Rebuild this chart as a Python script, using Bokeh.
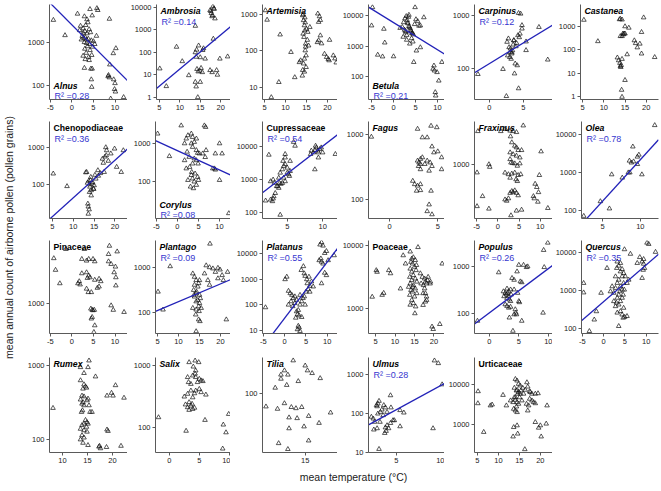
import math
from bokeh.plotting import figure
from bokeh.layouts import row, column
from bokeh.models import Label, FixedTicker, NumeralTickFormatter, Range1d
from bokeh.embed import file_html
from bokeh.resources import INLINE

# ---------------- data (temperature degC, annual pollen count) ----------------
ALNUS = [(-4.3,3300),(-1.6,1450),(1.3,4600),(2.9,4000),(4.2,5900),(4.7,4200),(3.5,3400),(5.8,6200),(6.0,5600),(8.7,3500),(2.0,2400),(1.8,1900),(2.6,2100),(3.2,2500),(3.0,1800),(3.5,1600),(4.0,2000),(4.3,1700),(2.4,1400),(3.1,1300),(3.8,1200),(4.5,1100),(2.9,1000),(3.4,950),(4.1,900),(5.0,1050),(2.2,1150),(3.6,800),(4.8,780),(3.0,700),(4.2,650),(5.3,900),(3.3,560),(2.6,480),(3.9,450),(4.6,500),(3.1,400),(4.0,380),(4.4,240),(4.7,240),(2.9,250),(10.2,720),(9.6,550),(8.8,300),(8.5,170),(8.4,160),(8.7,150),(9.7,135),(10.0,110),(9.9,80),(10.1,70),(9.0,48),(12.0,52),(4.5,135),(4.6,90),(2.6,1650),(5.7,1400),(3.7,2900),(2.7,1250),(3.4,1150)]
AMBROSIA = [(5.1,19),(6.7,3.1),(9.2,175),(10.6,40),(12.2,9.5),(13.8,100),(14.0,63),(14.6,200),(15.0,60),(15.6,125),(13.8,4.8),(14.0,3),(15.0,4.8),(14.4,1),(14.9,15),(15.2,20),(15.5,13),(14.2,18),(16.2,52),(15.8,150),(18.2,400),(17.4,7400),(18.1,11000),(18.6,3200),(17.7,5500),(18.0,4500),(17.6,6800),(18.4,8500),(13.8,1500),(17.4,16),(17.9,13),(19.0,16),(19.2,10),(19.8,52),(21.7,65),(14.5,14),(14.1,130),(17.9,4000),(18.3,9000)]
ARTEMISIA = [(5.2,1290),(5.6,710),(8.7,280),(8.4,14),(6.6,5.4),(11.3,93),(12.2,19),(13.3,49),(13.6,55),(14.1,940),(14.3,690),(14.5,500),(14.6,365),(14.2,295),(14.4,240),(14.8,157),(14.7,103),(14.9,75),(14.5,61),(14.3,45),(14.9,36),(14.1,30),(14.5,27),(14.0,21),(14.8,130),(15.2,200),(15.5,140),(15.0,400),(14.6,820),(17.7,1050),(18.1,880),(17.9,620),(18.3,700),(17.6,173),(17.9,195),(18.3,265),(18.6,160),(20.5,200),(19.3,83),(19.8,68),(20.2,60),(20.4,55),(21.4,75),(22.1,48),(21.8,62),(14.2,1000),(14.7,600),(15.8,450),(15.3,330)]
BETULA = [(-4.8,18600),(-5.0,4700),(-2.2,3650),(-2.0,1300),(-3.6,520),(-2.5,455),(0.0,460),(2.0,4200),(2.3,6000),(2.6,8000),(2.9,9500),(3.1,7000),(3.3,5500),(3.5,4500),(3.8,3800),(4.0,3000),(4.2,2600),(4.5,2400),(4.8,5200),(5.1,7500),(5.5,6500),(2.5,3400),(2.8,2800),(3.0,2300),(3.2,5800),(3.4,9000),(3.6,4200),(3.9,3300),(4.1,1800),(4.4,1400),(2.2,2000),(3.0,1600),(3.7,1200),(4.3,2700),(2.7,3100),(3.5,10500),(4.9,18600),(6.9,8700),(6.1,4700),(6.1,910),(5.2,710),(4.6,300),(9.2,230),(9.0,180),(9.3,158),(9.9,140),(11.0,300),(10.3,74),(9.5,31),(9.6,24),(1.5,3900),(5.8,4600)]
CARPINUS = [(-1.7,78),(2.0,97),(2.5,30),(2.6,315),(2.8,365),(3.1,235),(3.3,190),(3.4,218),(3.0,163),(3.2,151),(3.6,335),(2.9,250),(3.3,200),(3.6,340),(3.8,123),(4.1,114),(3.7,80),(4.3,42),(4.3,1100),(4.6,1070),(4.8,650),(4.8,560),(4.2,420),(4.4,385),(4.0,300),(5.4,220),(5.4,320),(7.3,600),(8.6,146),(3.5,280),(2.7,175),(3.9,260),(4.5,450),(3.1,205)]
CASTANEA = [(5.3,1900),(8.6,230),(13.9,2100),(14.3,1950),(15.0,1000),(15.9,870),(14.5,490),(14.8,490),(15.0,490),(13.9,380),(14.3,380),(15.5,63),(13.2,46),(13.5,35),(13.8,27),(14.1,22),(13.9,20),(14.0,18),(14.3,40),(15.0,5),(14.2,1.9),(14.3,0.95),(17.2,250),(17.5,190),(17.9,125),(18.5,180),(19.4,2400),(18.9,570),(18.9,68),(22.0,48),(14.6,450),(13.7,2000)]
CHENOPODIACEAE = [(5.2,195),(8.5,89),(13.2,215),(13.7,124),(14.2,158),(14.6,115),(15.0,94),(14.0,86),(14.8,76),(13.9,62),(14.3,50),(15.4,142),(15.9,240),(14.3,69),(13.9,100),(14.5,105),(15.2,180),(14.1,130),(13.5,30),(13.6,25),(13.8,21),(13.6,16),(13.4,110),(17.4,215),(17.0,490),(17.8,1000),(18.0,830),(17.9,610),(19.0,680),(19.9,920),(20.4,295),(21.5,215),(22.0,830),(16.0,170),(16.5,200),(17.2,380),(17.6,560),(18.4,430),(13.0,210),(14.9,75)]
CORYLUS = [(-4.7,1780),(-1.9,460),(0.9,2900),(1.7,990),(2.1,1320),(2.5,1610),(3.3,1780),(3.6,1450),(4.0,1080),(4.5,1320),(3.3,990),(3.6,800),(4.5,660),(1.7,360),(2.1,220),(2.9,240),(3.6,295),(4.5,360),(4.0,400),(4.8,560),(5.2,540),(3.3,148),(3.6,120),(4.0,100),(4.5,82),(3.1,74),(3.8,67),(4.8,132),(5.0,110),(4.2,162),(2.5,110),(3.4,178),(6.4,2900),(6.7,2650),(6.0,540),(6.6,435),(6.8,660),(8.4,220),(8.8,220),(9.0,205),(10.0,990),(9.0,540),(10.6,540),(10.0,110),(12.2,15),(2.8,440),(4.9,295),(2.3,600)]
CUPRESSACEAE = [(1.94,230),(2.4,5700),(2.64,890),(3.0,1000),(3.2,790),(2.64,245),(3.0,265),(3.1,310),(2.9,220),(3.3,390),(3.5,630),(3.65,630),(3.8,560),(3.9,790),(4.1,740),(3.8,1140),(4.0,1620),(4.3,2050),(4.5,2600),(4.7,2950),(4.4,3700),(4.7,4700),(4.7,6000),(5.0,1620),(5.2,1450),(5.3,1290),(5.4,1820),(5.0,2300),(4.5,1140),(4.3,790),(4.7,890),(4.0,85),(5.4,3700),(5.9,14000),(6.1,10700),(8.3,6000),(8.4,7600),(8.7,6700),(8.9,7900),(9.1,9500),(9.3,7600),(9.4,6700),(9.6,8500),(9.8,9500),(9.0,10700),(8.9,2050),(9.4,4700),(10.0,6700),(11.8,6000)]
FAGUS = [(-1.9,930),(2.9,1230),(3.4,910),(3.9,910),(4.3,1370),(4.9,1300),(4.4,660),(4.6,535),(5.0,555),(5.4,450),(2.9,400),(3.05,375),(3.2,355),(3.2,425),(3.4,450),(3.0,330),(3.2,295),(3.65,355),(3.9,400),(4.2,375),(4.4,330),(4.1,280),(2.4,196),(2.6,174),(2.9,165),(3.2,174),(2.8,138),(3.2,141),(4.3,138),(4.1,85),(3.9,67),(4.4,60),(5.4,295)]
FRAXINUS = [(-4.7,3100),(-4.9,775),(-3.6,350),(-2.1,1020),(-1.9,935),(-4.9,250),(-2.1,230),(0.7,3100),(1.7,3350),(2.9,3150),(3.6,3100),(4.4,3000),(3.0,2600),(6.0,3750),(3.3,2130),(4.0,1900),(4.4,1800),(4.8,1640),(2.9,1520),(3.6,1430),(5.6,1640),(4.4,1360),(5.2,1280),(2.9,1210),(3.1,1080),(3.5,1060),(4.0,1050),(5.2,1050),(4.6,970),(1.7,770),(2.5,730),(3.3,745),(4.0,770),(4.8,710),(5.4,730),(2.9,650),(4.3,615),(4.6,580),(3.3,415),(3.6,400),(4.0,425),(4.4,390),(2.9,390),(4.8,360),(1.7,313),(2.5,325),(2.1,300),(4.4,215),(5.6,222),(3.1,184),(10.2,1570),(9.8,710),(8.8,530),(9.2,475),(8.4,350),(8.6,325),(9.6,400),(9.45,290),(11.8,235)]
OLEA = [(2.5,72),(4.7,175),(6.2,890),(5.9,113),(8.4,1000),(8.6,1000),(7.6,730),(8.55,2040),(8.8,1820),(9.1,1950),(9.0,4800),(9.6,2600),(9.8,2930),(9.6,1660),(10.2,890),(11.9,17500)]
PINACEAE = [(-4.2,3700),(-3.8,2640),(-2.8,1790),(-1.4,4830),(2.9,4830),(2.3,3620),(3.4,3450),(3.9,3620),(4.9,3620),(5.3,3380),(2.3,2390),(3.4,2460),(3.9,2240),(3.6,2090),(4.2,2130),(5.3,1980),(6.3,2040),(6.7,1900),(1.4,1790),(1.9,1730),(1.7,1900),(3.4,1530),(3.8,1385),(4.5,1385),(5.9,1570),(6.3,1630),(4.4,860),(4.7,830),(4.9,820),(5.2,830),(4.7,675),(4.5,645),(5.3,530),(5.1,437),(8.7,5300),(8.5,4170),(10.5,4500),(8.5,3380),(9.1,3130),(10.1,2900),(9.8,2460),(10.2,2130),(10.2,1680),(9.1,945),(9.6,830),(12.1,780)]
PLANTAGO = [(5.1,290),(6.3,117),(8.0,1050),(13.4,730),(13.8,615),(14.2,520),(14.8,445),(15.0,520),(14.6,375),(13.6,316),(14.2,268),(15.0,247),(13.8,226),(14.6,190),(14.2,177),(15.0,163),(13.4,127),(14.2,117),(15.4,127),(14.9,108),(14.1,91),(14.3,290),(15.2,208),(13.7,247),(14.8,138),(13.8,410),(14.8,71),(15.1,65),(14.2,39),(17.5,3300),(16.2,730),(17.0,520),(17.4,410),(18.2,940),(18.8,790),(19.4,970),(19.9,890),(20.4,670),(19.4,570),(20.7,520),(21.7,790),(16.6,1100),(17.4,1000),(21.4,71)]
PLATANUS = [(-4.5,79),(0.1,980),(0.5,1230),(0.9,345),(1.3,280),(1.7,240),(2.0,180),(1.5,135),(0.9,100),(1.9,87),(2.4,115),(2.8,155),(3.2,62),(2.8,55),(3.0,42),(3.4,38),(4.0,33),(2.6,31),(3.2,15),(3.4,13),(3.0,11),(3.6,9.4),(4.4,3160),(4.6,1660),(4.8,1320),(5.2,980),(5.3,680),(5.9,540),(5.5,400),(5.0,320),(4.6,210),(4.3,180),(3.9,2240),(5.7,1230),(6.3,800),(6.7,510),(5.9,320),(3.6,240),(4.0,135),(4.8,100),(3.6,100),(2.4,210),(8.3,22000),(8.65,27000),(9.0,20000),(8.1,5400),(8.65,4700),(9.0,4000),(8.5,6300),(9.8,12300),(9.4,10300),(10.2,5400),(11.6,8400),(9.4,1750),(9.8,1410),(8.65,680)]
POACEAE = [(4.15,1550),(5.2,4070),(5.4,3830),(6.7,1660),(7.1,1780),(8.4,4070),(8.85,3630),(11.4,2090),(12.1,6980),(12.7,5170),(13.9,8000),(14.7,6500),(14.3,6200),(15.2,5870),(14.1,5500),(14.5,5170),(15.0,4600),(13.9,4300),(14.3,3850),(15.4,4070),(14.7,3400),(13.8,3190),(15.2,3000),(14.3,2830),(15.6,2680),(13.9,2510),(14.7,2360),(15.2,2100),(14.1,1980),(14.5,1870),(15.6,1760),(13.8,1660),(15.0,1560),(14.3,1380),(14.7,1230),(13.9,1160),(15.3,1090),(13.5,2220),(15.5,4900),(14.6,2220),(15.9,9400),(16.5,3630),(17.0,3190),(17.6,3000),(17.8,2680),(16.7,2510),(17.3,2360),(18.1,2510),(18.3,2830),(18.5,3190),(19.0,2510),(17.6,2100),(17.8,1760),(17.2,1760),(18.1,1560),(18.1,1380),(17.8,1300),(17.2,1150),(19.1,2680),(22.1,5170),(15.1,850),(19.5,525),(19.8,480),(21.5,575)]
POPULUS = [(-2.0,69),(1.6,760),(2.4,297),(2.7,275),(3.0,340),(3.3,297),(3.6,325),(2.9,253),(3.3,233),(3.7,253),(3.0,214),(3.4,198),(3.6,183),(2.7,156),(3.0,144),(3.3,132),(3.6,138),(2.5,233),(3.1,275),(3.4,81),(3.85,575),(4.2,525),(4.0,42),(4.4,122),(4.5,103),(4.2,95),(4.6,95),(4.7,795),(5.0,1100),(5.25,485),(5.0,183),(5.1,173),(5.5,69),(5.8,1100),(6.5,1020),(6.3,985),(5.5,465),(9.1,103),(9.3,985),(9.9,3300),(9.2,2300),(4.2,325),(4.8,275)]
QUERCUS = [(-4.7,1540),(-4.7,870),(-3.35,85),(-2.2,170),(-1.7,280),(-0.6,850),(0.8,3800),(3.2,5600),(3.95,5130),(3.55,4350),(3.1,3800),(4.35,3560),(3.95,3090),(4.7,2800),(4.35,2290),(2.8,2290),(3.55,1870),(3.2,1540),(4.7,1540),(3.95,1260),(2.8,1140),(4.35,1030),(2.4,850),(3.55,760),(3.2,630),(4.35,630),(2.4,515),(3.95,515),(3.55,420),(2.8,380),(4.7,345),(3.95,282),(3.2,258),(4.35,230),(4.6,190),(4.95,200),(5.5,210),(3.55,115),(5.1,2290),(5.9,1870),(5.5,1540),(4.85,1030),(2.0,1260),(1.6,930),(4.6,760),(3.8,930),(3.0,470),(6.3,8900),(4.9,11700),(7.9,5130),(8.5,7300),(9.4,6500),(9.05,5600),(9.4,4900),(9.3,3400),(9.6,3800),(9.05,2080),(10.2,17400),(10.6,16100),(12.2,10000)]
RUMEX = [(8.1,265),(13.6,950),(15.3,1170),(15.1,950),(14.3,790),(16.6,710),(13.6,630),(14.3,555),(14.6,520),(14.8,500),(14.1,485),(13.9,390),(14.3,380),(13.6,345),(14.1,318),(14.9,337),(15.1,355),(13.9,303),(14.3,288),(13.8,234),(14.0,246),(15.3,288),(15.5,234),(15.9,234),(14.6,182),(14.9,170),(14.3,162),(13.9,155),(14.8,147),(15.1,162),(13.6,138),(14.3,132),(14.9,126),(13.9,113),(13.6,99),(14.3,105),(15.1,83),(14.1,89),(18.9,390),(20.1,390),(19.8,425),(20.6,540),(22.3,365),(18.9,135),(19.1,129),(17.3,79),(17.6,75),(17.4,81),(18.8,78),(21.7,81)]
SALIX = [(-1.8,147),(2.8,89),(2.5,316),(3.05,350),(3.6,395),(4.2,357),(3.9,307),(2.7,236),(3.05,213),(3.3,193),(3.6,226),(3.9,200),(4.2,209),(3.8,242),(3.3,257),(3.05,650),(3.9,690),(4.4,650),(5.0,610),(5.3,575),(4.7,540),(5.6,560),(4.3,740),(3.6,505),(3.2,540),(3.3,1130),(4.3,1200),(4.9,1130),(4.0,960),(4.4,830),(5.0,420),(5.3,372),(4.4,395),(6.1,340),(5.95,133),(9.0,112),(9.45,84),(9.9,166),(8.9,46)]
TILIA = [(13.96,223),(15.0,197),(15.2,175),(15.6,164),(16.3,145),(14.4,135),(13.2,175),(12.9,158),(13.5,158),(12.9,143),(12.4,115),(13.4,123),(11.6,73),(12.6,69),(13.2,79),(13.8,72),(14.2,70),(14.7,72),(13.6,56),(14.3,55),(15.3,58),(17.2,63),(16.2,49),(14.9,45),(13.6,43),(15.3,32),(12.7,30),(13.5,26)]
ULMUS = [(2.4,81),(2.6,73),(2.73,60),(2.66,38),(3.0,41),(2.94,162),(3.0,151),(3.08,178),(3.2,208),(3.35,108),(3.5,124),(3.7,162),(3.87,141),(3.63,89),(4.04,108),(3.08,98),(3.3,60),(3.2,12),(3.8,31),(3.94,35),(4.2,41),(4.04,49),(4.4,56),(4.66,66),(3.87,43),(4.4,290),(4.45,141),(4.8,66),(5.4,46),(5.4,120),(5.8,104),(8.85,41),(9.0,2290),(9.4,1950),(9.8,555)]
URTICACEAE = [(5.15,6800),(5.1,3400),(6.5,650),(8.1,3000),(8.5,3160),(11.1,5500),(11.9,3000),(12.9,4000),(13.5,3630),(14.05,4800),(14.05,13800),(14.45,12600),(14.8,10400),(15.2,9500),(14.3,7100),(14.8,6500),(15.35,7100),(14.6,5900),(13.8,4800),(15.05,4800),(14.05,4150),(14.45,3630),(14.8,3300),(14.3,2820),(14.05,2240),(13.65,2470),(14.45,2040),(15.6,4000),(16.0,5900),(16.4,7400),(15.8,8300),(13.8,8300),(14.45,7400),(15.2,5900),(16.8,11400),(17.0,8900),(17.6,6500),(18.0,5900),(17.45,6800),(18.8,5900),(17.45,4400),(18.0,4000),(18.4,3630),(18.8,3400),(16.7,3300),(17.2,3000),(17.0,2240),(19.45,6050),(21.6,3000),(18.8,1150),(19.6,830),(20.0,950),(21.4,1050),(20.2,500),(13.65,860),(14.45,950),(13.5,500),(14.6,590),(16.3,240)]

FAMILIES = ["Chenopodiaceae", "Cupressaceae", "Pinaceae", "Poaceae", "Urticaceae"]

# R squared labels and fitted lines: log10(count) = intercept + slope * temperature
R2 = {"Alnus": "0.28", "Ambrosia": "0.14", "Betula": "0.21", "Carpinus": "0.12",
      "Chenopodiaceae": "0.36", "Corylus": "0.08", "Cupressaceae": "0.54", "Olea": "0.78",
      "Plantago": "0.09", "Platanus": "0.55", "Populus": "0.26", "Quercus": "0.35", "Ulmus": "0.28"}
FIT = {"Alnus": (3.405, -0.101), "Ambrosia": (-0.265, 0.152), "Betula": (3.77, -0.089),
       "Carpinus": (2.09, 0.078), "Chenopodiaceae": (0.622, 0.1017), "Corylus": (2.81, -0.0503),
       "Cupressaceae": (2.35, 0.1667), "Olea": (1.16, 0.218), "Plantago": (1.856, 0.039),
       "Platanus": (1.48, 0.219), "Populus": (2.01, 0.0954), "Quercus": (2.70, 0.0961),
       "Ulmus": (1.42, 0.1346)}

# name, points, x limits, y limits, x ticks, y ticks, label position
PANELS = [
    [("Alnus", ALNUS, (-5.2, 12.9), (46, 7600), [-5, 0, 5, 10], [100, 1000], "bottom"),
     ("Ambrosia", AMBROSIA, (4.3, 22.4), (0.8, 13500), [5, 10, 15, 20], [1, 10, 100, 1000, 10000], "top"),
     ("Artemisia", ARTEMISIA, (4.5, 22.4), (4.7, 1870), [5, 10, 15, 20], [10, 100, 1000], "top"),
     ("Betula", BETULA, (-5.7, 11.6), (18, 23000), [-5, 0, 5, 10], [100, 1000, 10000], "bottom"),
     ("Carpinus", CARPINUS, (-2.2, 9.3), (26, 1600), [0, 5], [100, 1000], "top"),
     ("Castanea", CASTANEA, (4.5, 22.9), (0.74, 8700), [5, 10, 15, 20], [1, 10, 100, 1000], "top")],
    [("Chenopodiaceae", CHENOPODIACEAE, (4.3, 23.0), (12, 5000), [5, 10, 15, 20], [100, 1000], "top"),
     ("Corylus", CORYLUS, (-5.2, 12.6), (11, 3700), [-5, 0, 5, 10], [100, 1000], "bottom"),
     ("Cupressaceae", CUPRESSACEAE, (1.5, 12.1), (66, 59000), [5, 10], [100, 1000, 10000], "top"),
     ("Fagus", FAGUS, (-2.2, 5.7), (52, 1600), [0, 5], [100, 1000], "top"),
     ("Fraxinus", FRAXINUS, (-5.5, 12.9), (166, 4300), [-5, 0, 5, 10], [1000], "top"),
     ("Olea", OLEA, (2.2, 12.4), (62, 22000), [5, 10], [100, 1000, 10000], "top")],
    [("Pinaceae", PINACEAE, (-5.2, 12.9), (420, 6200), [-5, 0, 5, 10], [1000], "top"),
     ("Plantago", PLANTAGO, (4.5, 22.4), (35, 3900), [5, 10, 15, 20], [100, 1000], "top"),
     ("Platanus", PLATANUS, (-5.2, 12.4), (7.6, 32000), [-5, 0, 5, 10], [10, 100, 1000, 10000], "top"),
     ("Poaceae", POACEAE, (3.2, 22.7), (410, 12000), [5, 10, 15, 20], [1000, 10000], "top"),
     ("Populus", POPULUS, (-2.5, 10.7), (37, 3700), [0, 5, 10], [100, 1000], "top"),
     ("Quercus", QUERCUS, (-5.2, 12.9), (74, 20000), [-5, 0, 5, 10], [100, 1000, 10000], "top")],
    [("Rumex", RUMEX, (7.4, 23.0), (66, 1290), [10, 15, 20], [100, 1000], "top"),
     ("Salix", SALIX, (-2.3, 10.2), (40, 1350), [0, 5, 10], [100, 1000], "top"),
     ("Tilia", TILIA, (11.3, 17.8), (24, 240), [15], [100], "top"),
     ("Ulmus", ULMUS, (2.1, 10.05), (9.8, 2750), [5, 10], [10, 100, 1000], "top"),
     ("Urticaceae", URTICACEAE, (4.3, 22.9), (200, 48000), [5, 10, 15, 20], [1000, 10000], "top")],
]

Y_LABEL = "mean annual count of airborne pollen (pollen grains)"
X_LABEL = "mean temperature (°C)"

# ---------------- styling / layout ----------------
FONT = "Liberation Sans"
LINE_BLUE = "#2222b8"
TEXT_BLUE = "#3636cf"
AXIS_GRAY = "#5a5a5a"
YLAB_W = 16
# per column: (left border, frame width, right border)
COLS = [(33, 78, 0), (28, 75, 0), (32, 75, 0), (31, 76, 0), (30, 78, 0), (28, 78, 3)]
# per row: (top border, frame height, bottom border)
ROWS = [(4, 95, 17), (5, 97, 17), (5, 93, 19), (5, 95, 16)]
XLAB_H = 15


def make_panel(spec, col, rw):
    name, pts, xr, yr, xt, yt, pos = spec
    left, fw, right = COLS[col]
    top, fh, bottom = ROWS[rw]
    p = figure(width=left + fw + right, height=top + fh + bottom,
               x_range=Range1d(*xr), y_range=Range1d(*yr), y_axis_type="log",
               output_backend="svg", toolbar_location=None,
               min_border_left=left, min_border_right=right,
               min_border_top=top, min_border_bottom=bottom)
    p.outline_line_color = None
    p.grid.visible = False
    p.background_fill_color = "white"
    p.border_fill_color = "white"
    p.xaxis.ticker = FixedTicker(ticks=xt)
    p.yaxis.ticker = FixedTicker(ticks=yt)
    for ax in (p.xaxis, p.yaxis):
        ax.formatter = NumeralTickFormatter(format="0")
        ax.axis_line_color = AXIS_GRAY
        ax.axis_line_width = 1
        ax.major_tick_line_color = AXIS_GRAY
        ax.major_tick_in = 0
        ax.major_tick_out = 3
        ax.minor_tick_line_color = None
        ax.major_label_text_font = FONT
        ax.major_label_text_font_size = "7.5px"
        ax.major_label_text_color = "#222222"
        ax.major_label_standoff = 2

    xs = [a for a, b in pts]
    ys = [b for a, b in pts]
    p.scatter(xs, ys, marker="triangle", size=4.6, fill_color=None,
              line_color="#111111", line_width=0.7)

    if name in FIT:
        a, b = FIT[name]
        lx = [xr[0], xr[1]]
        ly = [10 ** (a + b * v) for v in lx]
        p.line(lx, ly, line_color=LINE_BLUE, line_width=1.3)

    style = "bold" if name in FAMILIES else "bold italic"
    if pos == "top":
        ny, ry = fh - 6.5, fh - 17.5
    else:
        ny, ry = 13.5, 4
    p.add_layout(Label(x=4, y=ny, x_units="screen", y_units="screen", text=name,
                       text_font=FONT, text_font_size="8.7px", text_font_style=style,
                       text_color="black", text_baseline="alphabetic"))
    if name in R2:
        p.add_layout(Label(x=5, y=ry, x_units="screen", y_units="screen",
                           text="R\u00b2 =" + R2[name],
                           text_font=FONT, text_font_size="9px", text_color=TEXT_BLUE,
                           text_baseline="alphabetic"))
    return p


rows = []
for ri, r in enumerate(PANELS):
    figs = [make_panel(spec, c, ri) for c, spec in enumerate(r)]
    rows.append(row(*figs, spacing=0))
grid = column(*rows, spacing=0)
grid_h = sum(t + f + b for t, f, b in ROWS)

ylab = figure(width=YLAB_W, height=grid_h, x_range=(0, 1), y_range=(0, 1),
              output_backend="svg", toolbar_location=None,
              x_axis_location=None, y_axis_location=None, min_border=0)
ylab.outline_line_color = None
ylab.grid.visible = False
ylab.add_layout(Label(x=8, y=grid_h - 237, x_units="screen", y_units="screen",
                      angle=math.pi / 2, text=Y_LABEL, text_align="center",
                      text_baseline="middle", text_font=FONT, text_font_size="10.5px",
                      text_color="#222222"))

total_w = YLAB_W + sum(l + f + r for l, f, r in COLS)
xlab = figure(width=total_w, height=XLAB_H, x_range=(0, 1), y_range=(0, 1),
              output_backend="svg", toolbar_location=None,
              x_axis_location=None, y_axis_location=None, min_border=0)
xlab.outline_line_color = None
xlab.grid.visible = False
xlab.add_layout(Label(x=353, y=7, x_units="screen", y_units="screen", text=X_LABEL,
                      text_align="center", text_baseline="middle", text_font=FONT,
                      text_font_size="10.5px", text_color="#222222"))

page = column(row(ylab, grid, spacing=0), xlab, spacing=0)

open("out.html", "w").write(file_html(page, INLINE))
